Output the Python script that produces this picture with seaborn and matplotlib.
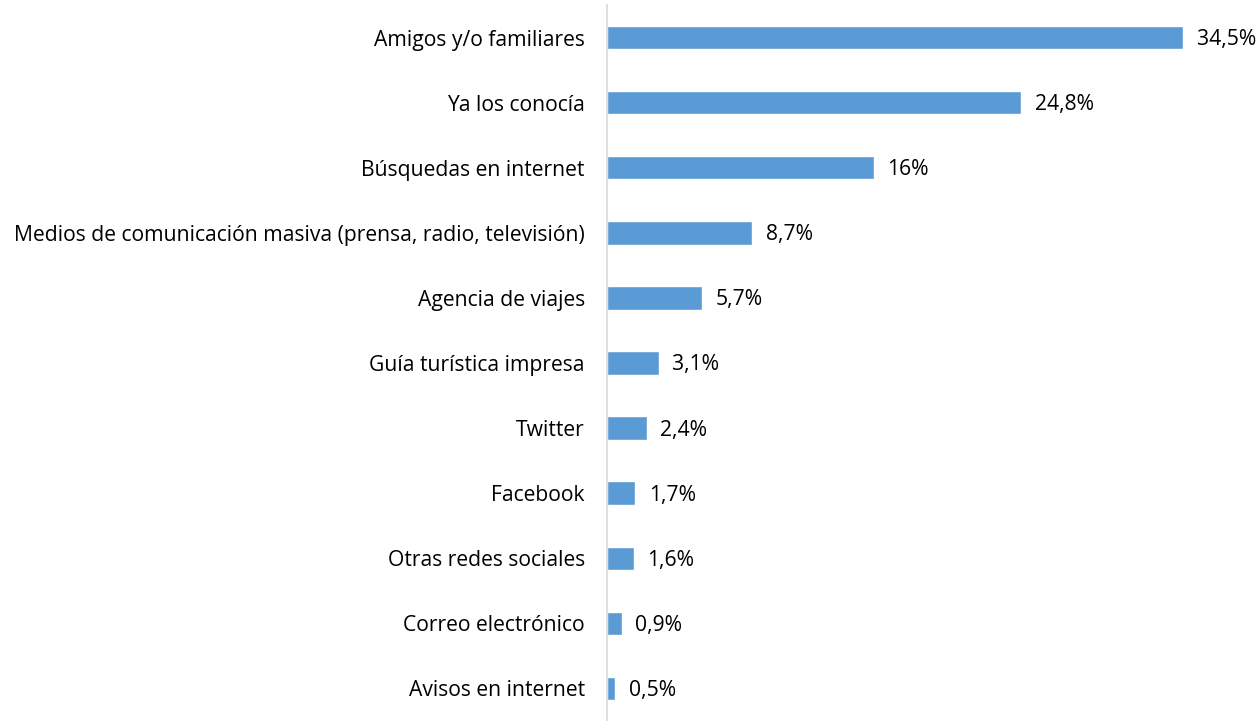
import pandas as pd
import seaborn as sns
import matplotlib.pyplot as plt

categories = [
    "Amigos y/o familiares",
    "Ya los conocía",
    "Búsquedas en internet",
    "Medios de comunicación masiva (prensa, radio, televisión)",
    "Agencia de viajes",
    "Guía turística impresa",
    "Twitter",
    "Facebook",
    "Otras redes sociales",
    "Correo electrónico",
    "Avisos en internet",
]
values = [34.5, 24.8, 16.0, 8.7, 5.7, 3.1, 2.4, 1.7, 1.6, 0.9, 0.5]
value_labels = ["34,5%", "24,8%", "16%", "8,7%", "5,7%", "3,1%", "2,4%", "1,7%", "1,6%", "0,9%", "0,5%"]

df = pd.DataFrame({"fuente": categories, "pct": values})

sns.set_style("white")
plt.rcParams["font.family"] = ["Open Sans", "DejaVu Sans"]

fig = plt.figure(figsize=(12.6, 7.21), dpi=100)
ax = fig.add_axes([607 / 1260, 0.0, 1 - 607 / 1260, 0.993])

sns.barplot(data=df, x="pct", y="fuente", color="#5B9BD5", width=0.36,
            saturation=1, ax=ax)

# etiquetas de valor a la derecha de cada barra
for i, (v, lab) in enumerate(zip(values, value_labels)):
    ax.text(v + 0.8, i + 0.03, lab, va="center", ha="left", fontsize=15.2, color="#000000")

ax.set_xlim(0, 39.1)
ax.set_ylim(10.5, -0.5)
ax.set_xlabel("")
ax.set_ylabel("")
ax.set_xticks([])
ax.tick_params(axis="y", length=0, pad=16, labelsize=15.2, labelcolor="#000000")
for s in ["top", "right", "bottom"]:
    ax.spines[s].set_visible(False)
ax.spines["left"].set_color("#D9D9D9")
ax.spines["left"].set_linewidth(1.2)

fig.savefig("out.png", dpi=100)
